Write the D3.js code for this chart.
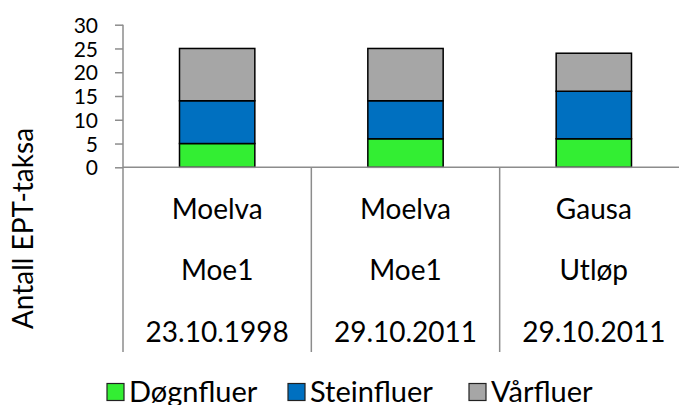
<!DOCTYPE html>
<html>
<head>
<meta charset="utf-8">
<script src="https://cdn.jsdelivr.net/npm/d3@7"></script>
<style>
  html, body { margin: 0; padding: 0; background: #fff; }
  svg { display: block; font-family: Lato, "Open Sans", sans-serif; }
</style>
</head>
<body>
<svg id="chart" width="679" height="405"></svg>
<script>
// Sampling sites (three-line category labels)
const rivers = ["Moelva", "Moelva", "Gausa"];
const stations = ["Moe1", "Moe1", "Utløp"];
const dates = ["23.10.1998", "29.10.2011", "29.10.2011"];

// Number of EPT taxa per group
const seriesNames = ["Døgnfluer", "Steinfluer", "Vårfluer"];
const dognfluer = [5, 6, 6];
const steinfluer = [9, 8, 10];
const varfluer = [11, 11, 8];

const yTicks = [0, 5, 10, 15, 20, 25, 30];
const colors = ["#33EE33", "#0070C0", "#A6A6A6"];

const svg = d3.select("#chart");
const W = 679, H = 405;
const x0 = 123, x1 = 688;       // plot spans slightly past the right edge
const y0 = 167.3, y1 = 24.7;

const keys = rivers.map((r, i) => i);
const x = d3.scaleBand().domain(keys).range([x0, x1]).paddingInner(0).paddingOuter(0);
const y = d3.scaleLinear().domain([0, 30]).range([y0, y1]);

// Stack the three series for each site
const rows = keys.map(i => ({ i, Døgnfluer: dognfluer[i], Steinfluer: steinfluer[i], Vårfluer: varfluer[i] }));
const stack = d3.stack().keys(seriesNames)(rows);

const axisColor = "#8C8C8C";
const barW = x.bandwidth() * 0.4;

stack.forEach((layer, si) => {
  svg.append("g").selectAll("rect").data(layer).enter().append("rect")
    .attr("x", d => x(d.data.i) + (x.bandwidth() - barW) / 2)
    .attr("y", d => y(d[1]))
    .attr("width", barW)
    .attr("height", d => y(d[0]) - y(d[1]))
    .attr("fill", colors[si])
    .attr("stroke", "#000")
    .attr("stroke-width", 1.5);
});

// Y axis
const yAxis = d3.axisLeft(y).tickValues(yTicks).tickSize(8).tickPadding(17);
const gy = svg.append("g").attr("transform", `translate(${x0},0)`).call(yAxis);
gy.select(".domain").remove();
gy.selectAll(".tick line").attr("stroke", axisColor).attr("stroke-width", 1.5);
gy.selectAll(".tick text").attr("font-size", 21).attr("fill", "#000")
  .attr("font-family", "Lato, sans-serif").attr("dy", "0.36em");

// Axis lines: vertical y axis extends down through the label block
const labelBottom = 352;
svg.append("line").attr("x1", x0).attr("x2", x0).attr("y1", y1).attr("y2", labelBottom)
  .attr("stroke", axisColor).attr("stroke-width", 1.5);
svg.append("line").attr("x1", x0).attr("x2", x1).attr("y1", y0).attr("y2", y0)
  .attr("stroke", axisColor).attr("stroke-width", 1.5);

// Category dividers
keys.slice(1).forEach(i => {
  svg.append("line").attr("x1", x(i)).attr("x2", x(i)).attr("y1", y0).attr("y2", labelBottom)
    .attr("stroke", axisColor).attr("stroke-width", 1.5);
});

// Category labels
const labelRows = [rivers, stations, dates];
const baselines = [218.5, 280, 341.5];
labelRows.forEach((arr, r) => {
  svg.append("g").selectAll("text").data(keys).enter().append("text")
    .attr("x", d => x(d) + x.bandwidth() / 2)
    .attr("y", baselines[r])
    .attr("text-anchor", "middle")
    .attr("font-size", 28)
    .attr("fill", "#000")
    .text(d => arr[d]);
});

// Y axis title
svg.append("text")
  .attr("transform", "translate(33,228.5) rotate(-90)")
  .attr("text-anchor", "middle")
  .attr("font-size", 28)
  .attr("fill", "#000")
  .text("Antall EPT-taksa");

// Legend
const legendX = [107, 288, 469];
const legend = svg.append("g");
seriesNames.forEach((name, i) => {
  legend.append("rect")
    .attr("x", legendX[i]).attr("y", 383.5)
    .attr("width", 17).attr("height", 17)
    .attr("fill", colors[i]).attr("stroke", "#222").attr("stroke-width", 1.2);
  legend.append("text")
    .attr("x", legendX[i] + 22).attr("y", 401.5)
    .attr("font-size", 29).attr("fill", "#000")
    .text(name);
});
</script>
</body>
</html>
